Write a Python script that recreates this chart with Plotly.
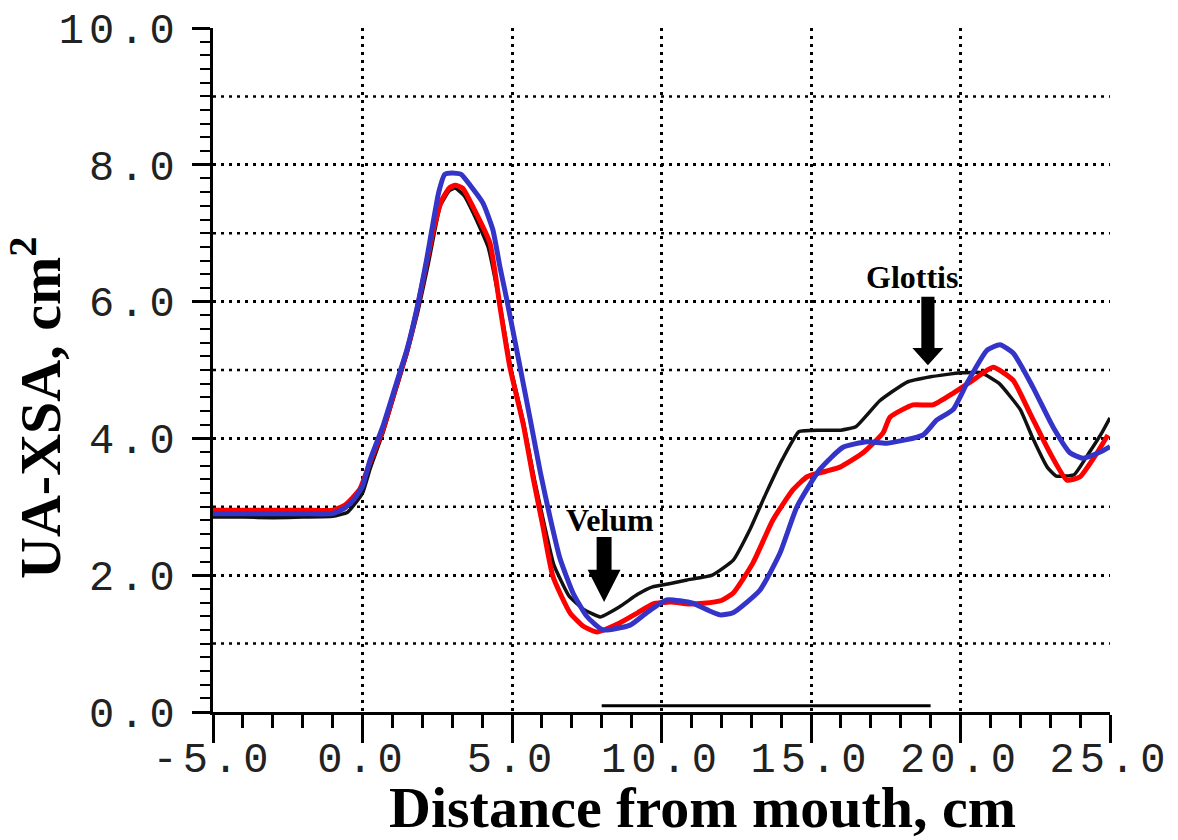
import plotly.graph_objects as go

# ---------------- data ----------------
black_x = [-5, -4, -3, -2, -1, -0.5, 0, 0.25, 0.7, 1.15, 1.5, 1.85, 2.2, 2.4, 2.6, 2.9, 3.1, 3.4, 3.7,
           4.2, 4.6, 4.95, 5.4, 5.75, 6.1, 6.4, 6.9, 7.4, 7.95, 8.6, 9.2, 9.7, 10.3, 10.85, 11.7, 12.4,
           12.95, 13.5, 14.05, 14.6, 15.3, 16.0, 16.5, 17.3, 18.2, 19.0, 20.0, 20.7, 21.3, 22.0, 22.4,
           22.9, 23.2, 23.8, 24.3, 24.75, 25.0]
black_y = [2.85, 2.85, 2.84, 2.85, 2.86, 2.92, 3.2, 3.55, 4.1, 4.75, 5.25, 5.85, 6.55, 7.0, 7.4, 7.62, 7.66,
           7.55, 7.3, 6.8, 5.95, 5.05, 4.2, 3.4, 2.7, 2.15, 1.7, 1.5, 1.39, 1.54, 1.72, 1.83, 1.88, 1.93,
           2.0, 2.22, 2.66, 3.2, 3.7, 4.1, 4.12, 4.12, 4.17, 4.55, 4.82, 4.9, 4.96, 4.96, 4.8, 4.42, 4.02,
           3.58, 3.45, 3.47, 3.79, 4.1, 4.3]

red_x = [-5, -2, -1, -0.6, -0.1, 0.25, 0.7, 1.15, 1.5, 1.82, 2.16, 2.4, 2.65, 2.9, 3.1, 3.35, 3.7, 4.26,
         4.6, 4.93, 5.37, 5.7, 6.04, 6.37, 6.94, 7.4, 7.84, 8.6, 9.2, 9.72, 10.3, 10.9, 11.4, 12.0, 12.4,
         13.06, 13.73, 14.4, 14.87, 15.5, 15.97, 16.74, 17.41, 17.64, 18.41, 19.08, 19.75, 20.42, 21.09,
         21.76, 22.32, 22.99, 23.56, 24.0, 24.57, 24.93]
red_y = [2.95, 2.95, 2.95, 3.02, 3.25, 3.65, 4.15, 4.8, 5.3, 5.88, 6.6, 7.1, 7.48, 7.66, 7.7, 7.66, 7.38,
         6.86, 5.92, 5.04, 4.22, 3.44, 2.7, 1.98, 1.45, 1.25, 1.17, 1.3, 1.45, 1.58, 1.61, 1.58, 1.59,
         1.63, 1.74, 2.18, 2.81, 3.25, 3.44, 3.52, 3.58, 3.79, 4.08, 4.31, 4.49, 4.49, 4.66, 4.85, 5.04,
         4.85, 4.37, 3.79, 3.39, 3.44, 3.79, 4.05]

blue_x = [-5, -2, -1, -0.6, -0.3, 0, 0.25, 0.7, 1.15, 1.5, 1.82, 2.16, 2.36, 2.55, 2.75, 3.0, 3.3, 3.6,
          4.03, 4.36, 4.6, 4.83, 5.27, 5.6, 5.95, 6.27, 6.6, 7.04, 7.5, 8.04, 8.95, 9.5, 10.18, 11.05,
          11.5, 11.96, 12.39, 13.29, 13.96, 14.53, 15.3, 16.07, 16.87, 17.54, 18.75, 19.21, 19.75, 20.22,
          20.89, 21.32, 21.76, 22.42, 23.09, 23.66, 24.1, 24.67, 25.0]
blue_y = [2.9, 2.9, 2.9, 2.98, 3.1, 3.3, 3.68, 4.2, 4.83, 5.32, 5.9, 6.65, 7.15, 7.6, 7.86, 7.88, 7.86,
          7.7, 7.44, 7.05, 6.5, 6.02, 5.04, 4.3, 3.5, 2.85, 2.25, 1.74, 1.4, 1.2, 1.27, 1.45, 1.64, 1.59,
          1.5, 1.42, 1.45, 1.78, 2.32, 3.0, 3.55, 3.87, 3.95, 3.93, 4.05, 4.27, 4.42, 4.81, 5.29, 5.37,
          5.25, 4.75, 4.17, 3.79, 3.71, 3.8, 3.88]

baseline_x = [8.0, 19.0]
baseline_y = [0.09, 0.09]

x_tickvals = [-5, 0, 5, 10, 15, 20, 25]
x_ticklabels = ["-5.0", "0.0", "5.0", "10.0", "15.0", "20.0", "25.0"]
y_tickvals = [0, 2, 4, 6, 8, 10]
y_ticklabels = ["0.0", "2.0", "4.0", "6.0", "8.0", "10.0"]
y_odd_grid = [1, 3, 5, 7, 9]

# annotations: label, x, y ; arrows: x, top, head base, tip
velum_label = ("Velum", 8.28, 2.81)
glottis_label = ("Glottis", 18.38, 6.36)
arrows = [
    dict(x=8.08, top=2.56, base=2.08, tip=1.61, shaft=0.25, head=0.55),
    dict(x=18.91, top=6.07, base=5.32, tip=5.07, shaft=0.22, head=0.52),
]

# ---------------- figure ----------------
GRID_DASH = "3px,5px"
sp = lambda s: '<span style="letter-spacing:5px">%s</span>' % s

fig = go.Figure()
fig.add_trace(go.Scatter(x=black_x, y=black_y, mode="lines",
                         line=dict(color="#111111", width=3.5, shape="spline", smoothing=0.4)))
fig.add_trace(go.Scatter(x=red_x, y=red_y, mode="lines",
                         line=dict(color="#ff0000", width=5, shape="spline", smoothing=0.5)))
fig.add_trace(go.Scatter(x=blue_x, y=blue_y, mode="lines",
                         line=dict(color="#3434c8", width=5, shape="spline", smoothing=0.5)))
fig.add_trace(go.Scatter(x=baseline_x, y=baseline_y, mode="lines", cliponaxis=False,
                         line=dict(color="black", width=3)))

shapes = []
for yv in y_odd_grid:
    shapes.append(dict(type="line", xref="paper", x0=0, x1=1, yref="y", y0=yv, y1=yv,
                       layer="below", line=dict(color="black", width=2.5, dash=GRID_DASH)))
for a in arrows:
    p = (f"M {a['x']-a['shaft']},{a['top']} L {a['x']+a['shaft']},{a['top']} "
         f"L {a['x']+a['shaft']},{a['base']} L {a['x']+a['head']},{a['base']} "
         f"L {a['x']},{a['tip']} L {a['x']-a['head']},{a['base']} "
         f"L {a['x']-a['shaft']},{a['base']} Z")
    shapes.append(dict(type="path", path=p, xref="x", yref="y",
                       fillcolor="black", line=dict(color="black", width=0)))

annotations = []
for lbl, ax_, ay_ in [velum_label, glottis_label]:
    annotations.append(dict(x=ax_, y=ay_, xref="x", yref="y", text="<b>%s</b>" % lbl,
                            showarrow=False, font=dict(family="Liberation Serif", size=32,
                                                       color="black")))
annotations.append(dict(x=0.546, y=-0.14, xref="paper", yref="paper",
                        text="<b>Distance from mouth, cm</b>", showarrow=False,
                        xanchor="center", yanchor="middle",
                        font=dict(family="Liberation Serif", size=58, color="black")))
annotations.append(dict(x=-0.197, y=0.445, xref="paper", yref="paper",
                        text="<b>UA-XSA, cm<sup>2</sup></b>", showarrow=False, textangle=-90,
                        xanchor="center", yanchor="middle",
                        font=dict(family="Liberation Serif", size=58, color="black")))

tickfont = dict(family="Liberation Mono", size=42, color="#222222")

# the page body has an 8px default margin, so the figure is sized/offset to compensate
fig.update_layout(
    width=1170, height=832,
    margin=dict(l=205, r=68, t=20, b=128, autoexpand=False),
    paper_bgcolor="white", plot_bgcolor="white",
    showlegend=False,
    shapes=shapes, annotations=annotations,
    xaxis=dict(range=[-5, 25], tickmode="array", tickvals=x_tickvals,
               ticktext=[sp(t) for t in x_ticklabels], tickfont=tickfont,
               ticks="outside", ticklen=28, tickwidth=3, tickcolor="black",
               ticklabelstandoff=-21, ticklabeloverflow="allow", automargin=False,
               showline=True, linecolor="black", linewidth=3,
               showgrid=True, gridcolor="black", gridwidth=2.5, griddash=GRID_DASH,
               zeroline=False,
               minor=dict(dtick=1, tick0=0, ticks="outside", ticklen=13, tickwidth=3,
                          tickcolor="black", showgrid=False)),
    yaxis=dict(range=[0, 10], tickmode="array", tickvals=y_tickvals,
               ticktext=[sp(t) for t in y_ticklabels], tickfont=tickfont,
               ticks="outside", ticklen=18, tickwidth=3, tickcolor="black",
               ticklabelstandoff=4, ticklabeloverflow="allow", automargin=False,
               showline=True, linecolor="black", linewidth=3,
               showgrid=True, gridcolor="black", gridwidth=2.5, griddash=GRID_DASH,
               zeroline=False,
               minor=dict(dtick=0.2, tick0=0, ticks="outside", ticklen=10, tickwidth=2,
                          tickcolor="black", showgrid=False)),
)

fig.write_html("out.html")
